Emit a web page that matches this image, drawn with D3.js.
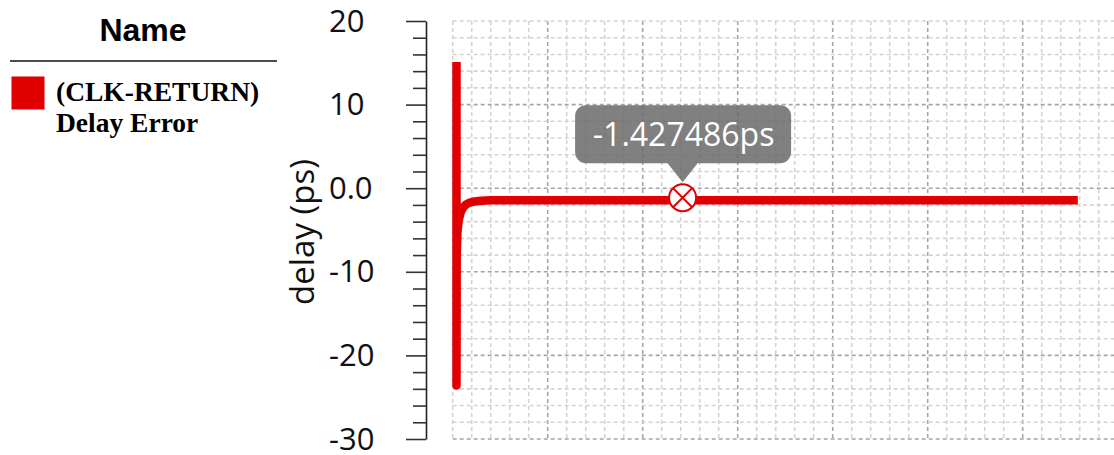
<!DOCTYPE html>
<html>
<head>
<meta charset="utf-8">
<script src="https://cdn.jsdelivr.net/npm/d3@7"></script>
<style>
  html, body { margin: 0; padding: 0; background: #fff; }
  svg { display: block; }
</style>
</head>
<body>
<svg id="chart" width="1114" height="455"></svg>
<script>
// Waveform of the (CLK-RETURN) delay error: time (ns) vs delay (ps)
const timeNs  = [0.2, 0.2, 0.21, 0.25, 0.32, 0.42, 0.55, 0.7, 0.9, 1.15, 1.5, 2.0, 3.0, 5.0, 12.1, 20.0, 32.9];
const delayPs = [15.1, -23.6, -8.0, -5.2, -3.8, -2.9, -2.3, -1.95, -1.72, -1.58, -1.5, -1.455, -1.435, -1.43, -1.427486, -1.4275, -1.4275];

// Cursor readout
const markerTime = 12.1;
const markerValue = -1.427486;

// Legend
const legendTitle = "Name";
const seriesLabel = ["(CLK-RETURN)", "Delay Error"];

// Axis setup
const yDomain = [-30, 20];
const yMajorTicks = [20, 10, 0, -10, -20, -30];
const yTickLabels = ["20", "10", "0.0", "-10", "-20", "-30"];
const xDomain = [0, 35];
const yLabel = "delay (ps)";

const RED = "#e00000";
const SANS = "'Open Sans', 'Noto Sans', sans-serif";
const svg = d3.select("#chart");

const x = d3.scaleLinear().domain(xDomain).range([452.7, 1117.7]);
const y = d3.scaleLinear().domain(yDomain).range([439, 21]);

// ---- grid ----
const grid = svg.append("g");
const xMinor = d3.range(0, 35, 1);
const yMinor = d3.range(-30, 20.001, 2);
grid.selectAll("line.vx").data(xMinor).join("line")
  .attr("x1", d => x(d)).attr("x2", d => x(d))
  .attr("y1", y(20)).attr("y2", y(-30))
  .attr("stroke", d => (d % 5 === 0 && d !== 0) ? "#a6a6a6" : "#d4d4d4")
  .attr("stroke-width", 1.6)
  .attr("stroke-dasharray", "4,3");
grid.selectAll("line.hy").data(yMinor).join("line")
  .attr("x1", x(0)).attr("x2", 1114)
  .attr("y1", d => y(d)).attr("y2", d => y(d))
  .attr("stroke", d => (d % 10 === 0 && d !== 20) ? "#a6a6a6" : "#d4d4d4")
  .attr("stroke-width", 1.6)
  .attr("stroke-dasharray", "4,3");

// ---- y axis ----
const axisX = 426;
const yAxis = d3.axisLeft(y)
  .tickValues(d3.range(-30, 20.001, 2))
  .tickFormat("")
  .tickSizeOuter(0);
const ag = svg.append("g").attr("transform", `translate(${axisX},0)`).call(yAxis);
ag.select(".domain").attr("stroke", "#222").attr("stroke-width", 1.6);
ag.selectAll(".tick line")
  .attr("stroke", "#333").attr("stroke-width", 1.6)
  .attr("x2", d => (d % 10 === 0) ? -20 : -13);

svg.append("g").selectAll("text").data(yMajorTicks).join("text")
  .attr("x", 329)
  .attr("y", d => y(d))
  .attr("dy", "0.34em")
  .attr("text-anchor", "start")
  .attr("font-family", SANS)
  .attr("font-size", 31)
  .attr("fill", "#111")
  .text((d, i) => yTickLabels[i]);

svg.append("text")
  .attr("transform", "translate(314,232) rotate(-90)")
  .attr("text-anchor", "middle")
  .attr("font-family", SANS)
  .attr("font-size", 33)
  .attr("fill", "#111")
  .text(yLabel);

// ---- waveform ----
const pts = timeNs.map((t, i) => [t, delayPs[i]]);
svg.append("path")
  .datum(pts)
  .attr("d", d3.line().x(d => x(d[0])).y(d => y(d[1])))
  .attr("fill", "none")
  .attr("stroke", RED)
  .attr("stroke-width", 8.5)
  .attr("stroke-linejoin", "round")
  .attr("stroke-linecap", "butt");

// ---- cursor marker ----
const mx = x(markerTime), my = y(markerValue) - 2.5;
const r = 13.5;
const mk = svg.append("g");
mk.append("circle").attr("cx", mx).attr("cy", my).attr("r", r)
  .attr("fill", "#fff").attr("stroke", RED).attr("stroke-width", 2);
const k = r * Math.SQRT1_2;
mk.append("path")
  .attr("d", `M${mx - k},${my - k}L${mx + k},${my + k}M${mx - k},${my + k}L${mx + k},${my - k}`)
  .attr("stroke", RED).attr("stroke-width", 2);

// ---- tooltip ----
const tipW = 216, tipH = 58, tipR = 11;
const tx0 = mx - tipW / 2 + 0.5, ty1 = my - r - 2;          // tip of pointer
const ty0 = ty1 - 19 - tipH;                                  // top of box
const boxBottom = ty0 + tipH;
const tipPath = [
  `M${tx0 + tipR},${ty0}`,
  `H${tx0 + tipW - tipR}`,
  `A${tipR},${tipR} 0 0 1 ${tx0 + tipW},${ty0 + tipR}`,
  `V${boxBottom - tipR}`,
  `A${tipR},${tipR} 0 0 1 ${tx0 + tipW - tipR},${boxBottom}`,
  `H${mx + 15}`,
  `L${mx},${ty1}`,
  `L${mx - 15},${boxBottom}`,
  `H${tx0 + tipR}`,
  `A${tipR},${tipR} 0 0 1 ${tx0},${boxBottom - tipR}`,
  `V${ty0 + tipR}`,
  `A${tipR},${tipR} 0 0 1 ${tx0 + tipR},${ty0}`,
  "Z"
].join("");
svg.append("path").attr("d", tipPath)
  .attr("fill", "#6a6a6a").attr("fill-opacity", 0.85);
svg.append("text")
  .attr("x", mx + 1).attr("y", ty0 + tipH / 2)
  .attr("dy", "0.36em")
  .attr("text-anchor", "middle")
  .attr("font-family", SANS)
  .attr("font-size", 32)
  .attr("fill", "#fff")
  .text(`${markerValue}ps`);

// ---- legend ----
const lg = svg.append("g");
lg.append("text")
  .attr("x", 143).attr("y", 41)
  .attr("text-anchor", "middle")
  .attr("font-family", "'Liberation Sans', Arial, sans-serif")
  .attr("font-weight", "bold")
  .attr("font-size", 32)
  .attr("fill", "#000")
  .text(legendTitle);
lg.append("line")
  .attr("x1", 10).attr("x2", 277).attr("y1", 61).attr("y2", 61)
  .attr("stroke", "#111").attr("stroke-width", 1.6);
lg.append("rect")
  .attr("x", 11.5).attr("y", 76.5).attr("width", 33).attr("height", 33)
  .attr("fill", RED);
lg.selectAll("text.item").data(seriesLabel).join("text")
  .attr("x", 56).attr("y", (d, i) => 101 + i * 31)
  .attr("font-family", "'Liberation Serif', 'Times New Roman', serif")
  .attr("font-weight", "bold")
  .attr("font-size", 27.5)
  .attr("fill", "#000")
  .text(d => d);
</script>
</body>
</html>
